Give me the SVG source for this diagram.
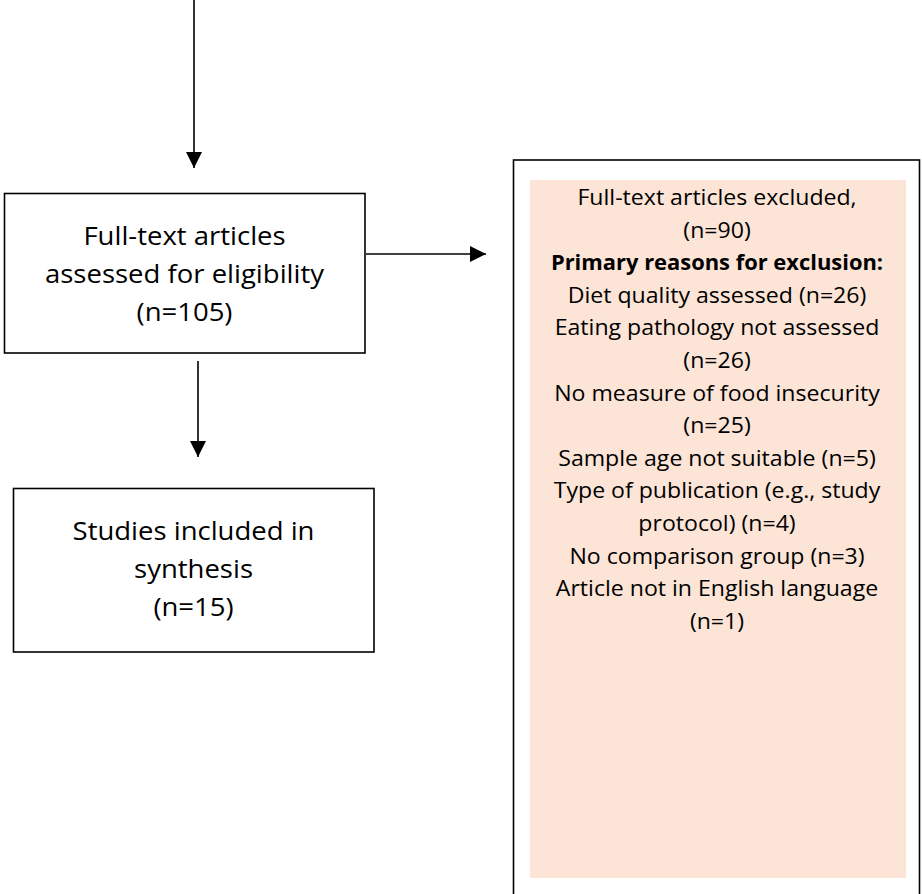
<svg xmlns="http://www.w3.org/2000/svg" width="922" height="894" viewBox="0 0 922 894">
<defs>
<style>
.box{fill:#ffffff;stroke:#000000;stroke-width:1.6}
.t{font-family:"Open Sans","Liberation Sans",sans-serif;fill:#000000;text-anchor:middle}
.big{font-size:25px}
.small{font-size:21px}
.b{font-weight:bold}
.conn{stroke:#000000;stroke-width:1.6;fill:none}
</style>
<marker id="ah" viewBox="0 0 16 16" refX="16" refY="8" markerWidth="16" markerHeight="16" markerUnits="userSpaceOnUse" orient="auto">
<path d="M0,0 L16,8 L0,16 Z" fill="#000000"/>
</marker>
</defs>
<rect width="922" height="894" fill="#ffffff"/>
<g id="connectors">
<line class="conn" x1="194" y1="0" x2="194" y2="168" marker-end="url(#ah)"/>
<line class="conn" x1="366" y1="254" x2="486" y2="254" marker-end="url(#ah)"/>
<line class="conn" x1="198" y1="361" x2="198" y2="457" marker-end="url(#ah)"/>
</g>
<g id="node-assessed">
<rect class="box" x="4.5" y="193.5" width="360.5" height="159.5"/>
<g transform="translate(184.5 0) scale(1.1 1)">
<text class="t big" x="0" y="245">Full-text articles</text>
<text class="t big" x="0" y="283">assessed for eligibility</text>
<text class="t big" x="0" y="321">(n=105)</text>
</g>
</g>
<g id="node-included">
<rect class="box" x="13.5" y="488.5" width="360.5" height="163.5"/>
<g transform="translate(193.5 0) scale(1.1 1)">
<text class="t big" x="0" y="540">Studies included in</text>
<text class="t big" x="0" y="578">synthesis</text>
<text class="t big" x="0" y="616">(n=15)</text>
</g>
</g>
<g id="node-excluded">
<rect class="box" x="513.5" y="160" width="406" height="760"/>
<rect x="530" y="180" width="376" height="698" fill="#FCE4D6"/>
<g transform="translate(717 0) scale(1.1 1)">
<text class="t small" x="0" y="205">Full-text articles excluded,</text>
<text class="t small" x="0" y="237.6">(n=90)</text>
<text class="t small b" x="0" y="270.2" textLength="302" lengthAdjust="spacingAndGlyphs">Primary reasons for exclusion:</text>
<text class="t small" x="0" y="302.8">Diet quality assessed (n=26)</text>
<text class="t small" x="0" y="335.4">Eating pathology not assessed</text>
<text class="t small" x="0" y="368">(n=26)</text>
<text class="t small" x="0" y="400.6">No measure of food insecurity</text>
<text class="t small" x="0" y="433.2">(n=25)</text>
<text class="t small" x="0" y="465.8">Sample age not suitable (n=5)</text>
<text class="t small" x="0" y="498.4">Type of publication (e.g., study</text>
<text class="t small" x="0" y="531">protocol) (n=4)</text>
<text class="t small" x="0" y="563.6">No comparison group (n=3)</text>
<text class="t small" x="0" y="596.2">Article not in English language</text>
<text class="t small" x="0" y="628.8">(n=1)</text>
</g>
</g>
</svg>
